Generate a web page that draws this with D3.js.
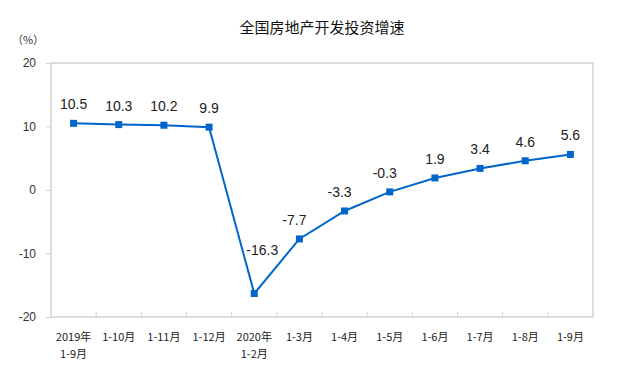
<!DOCTYPE html>
<html>
<head>
<meta charset="utf-8">
<script src="https://cdn.jsdelivr.net/npm/d3@7"></script>
<style>
  body { margin: 0; background: #fff; }
  svg { display: block; }
</style>
</head>
<body>
<div id="chart"></div>
<script>
var categories = ["2019年\n1-9月", "1-10月", "1-11月", "1-12月", "2020年\n1-2月", "1-3月",
  "1-4月", "1-5月", "1-6月", "1-7月", "1-8月", "1-9月"];
var growth = [10.5, 10.3, 10.2, 9.9, -16.3, -7.7, -3.3, -0.3, 1.9, 3.4, 4.6, 5.6];
var yTicks = [-20, -10, 0, 10, 20];

var width = 617, height = 374;
var margin = { top: 63, right: 24, bottom: 57, left: 51 };

var svg = d3.select("#chart")
  .append("svg")
    .attr("width", width)
    .attr("height", height);

var x = d3.scaleBand()
  .domain(categories)
  .range([margin.left, width - margin.right]);

var y = d3.scaleLinear()
  .domain([-20, 20])
  .range([height - margin.bottom, margin.top]);

// title
svg.append("text")
  .attr("x", (margin.left + width - margin.right) / 2)
  .attr("y", 33)
  .attr("text-anchor", "middle")
  .style("font-family", "'Noto Sans CJK SC', sans-serif")
  .style("font-size", "15px")
  .style("fill", "#111")
  .text("全国房地产开发投资增速");

svg.append("text")
  .attr("x", 28)
  .attr("y", 44)
  .attr("text-anchor", "middle")
  .style("font-family", "'Noto Sans CJK SC', sans-serif")
  .style("font-size", "11px")
  .style("fill", "#333")
  .text("（%）");

// plot frame
svg.append("rect")
  .attr("x", margin.left)
  .attr("y", margin.top)
  .attr("width", width - margin.left - margin.right)
  .attr("height", height - margin.top - margin.bottom)
  .style("fill", "none")
  .style("stroke", "#d4d4d4")
  .style("stroke-width", 1.5);

// y axis
var yAxis = svg.append("g")
  .attr("transform", "translate(" + margin.left + ",0)")
  .call(d3.axisLeft(y).tickValues(yTicks).tickSize(5).tickPadding(10)
    .tickFormat(function(d) { return String(d); }));
yAxis.select(".domain").remove();
yAxis.selectAll("line").style("stroke", "#d4d4d4");
yAxis.selectAll("text")
  .style("font-family", "'Liberation Sans', Arial, sans-serif")
  .style("font-size", "12px")
  .style("fill", "#333");

// x axis
var xAxis = svg.append("g")
  .attr("transform", "translate(0," + (height - margin.bottom) + ")")
  .call(d3.axisBottom(x).tickSize(0).tickFormat(""));
xAxis.select(".domain").remove();

xAxis.selectAll(".sep")
  .data(categories.slice(1))
  .enter()
  .append("line")
    .attr("x1", function(d) { return x(d); })
    .attr("x2", function(d) { return x(d); })
    .attr("y1", 0)
    .attr("y2", -5)
    .style("stroke", "#d4d4d4");

var catLabels = svg.append("g")
  .selectAll("text")
  .data(categories)
  .enter()
  .append("text")
    .attr("x", function(d) { return x(d) + x.bandwidth() / 2; })
    .attr("y", height - margin.bottom + 24)
    .attr("text-anchor", "middle")
    .style("font-family", "'Noto Sans CJK SC', sans-serif")
    .style("font-size", "11px")
    .style("fill", "#222");

catLabels.each(function(d) {
  var t = d3.select(this);
  d.split("\n").forEach(function(line, i) {
    t.append("tspan")
      .attr("x", t.attr("x"))
      .attr("dy", i === 0 ? 0 : 17)
      .text(line);
  });
});

// line
var line = d3.line()
  .x(function(d, i) { return x(categories[i]) + x.bandwidth() / 2; })
  .y(function(d) { return y(d); });

svg.append("path")
  .datum(growth)
  .attr("d", line)
  .style("fill", "none")
  .style("stroke", "#0066CC")
  .style("stroke-width", 2);

svg.selectAll(".marker")
  .data(growth)
  .enter()
  .append("rect")
    .attr("class", "marker")
    .attr("x", function(d, i) { return x(categories[i]) + x.bandwidth() / 2 - 3.5; })
    .attr("y", function(d) { return y(d) - 3.5; })
    .attr("width", 7)
    .attr("height", 7)
    .style("fill", "#0066CC");

// value labels
var minVal = d3.min(growth);
svg.selectAll(".val")
  .data(growth)
  .enter()
  .append("text")
    .attr("x", function(d, i) {
      var cx = x(categories[i]) + x.bandwidth() / 2;
      if (d === minVal) return cx + 8;
      if (d < 0) return cx - 5;
      return cx;
    })
    .attr("y", function(d) { return y(d) - (d === minVal ? 39 : 14); })
    .attr("text-anchor", "middle")
    .style("font-family", "'Liberation Sans', Arial, sans-serif")
    .style("font-size", "14px")
    .style("fill", "#222")
    .text(function(d) { return d.toFixed(1); });
</script>
</body>
</html>
